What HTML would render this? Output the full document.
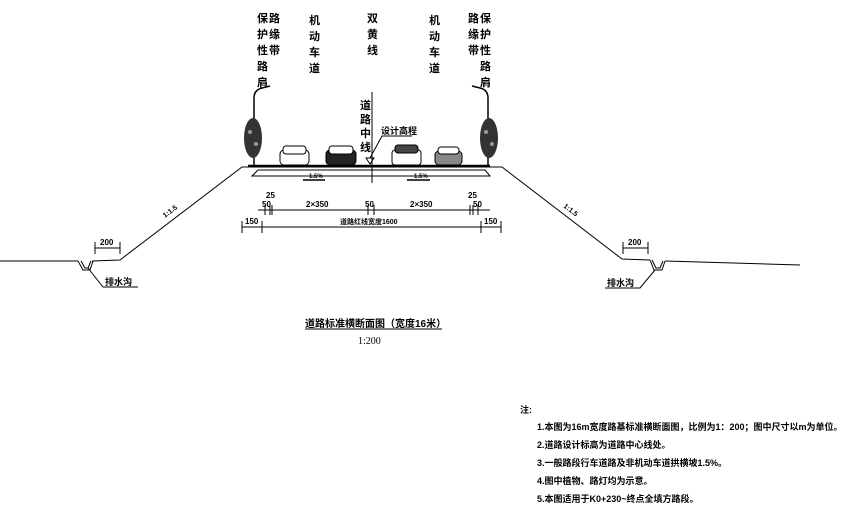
<!DOCTYPE html>
<html><head><meta charset="utf-8"><style>
body{margin:0;background:#fff}
svg{display:block}
text{font-family:"Liberation Sans","Noto Sans CJK SC",sans-serif;font-weight:bold;fill:#000}
.v{font-size:11px}
.d{font-size:8px}
</style></head><body>
<svg width="850" height="518" viewBox="0 0 850 518" xmlns="http://www.w3.org/2000/svg">
<g stroke="#000" fill="none" stroke-width="1">
<path d="M0 261 L78 261 M92 261 L120 260 L242 167 L502 167 L622 259 L650 260 M665 261 L800 265"/>
<path d="M78 261 L83 270 L90 270 L93 261 M81 261 L85 268 L88 268 L91 261"/>
<path d="M650 260 L654 270 L662 270 L665 261 M652 260 L656 268 L660 268 L663 261"/>
<path d="M88 268 L103 287 L138 287 M655 270 L640 288 L605 288"/>
<path d="M248 166 L490 166" stroke-width="2.5"/>
<path d="M258 170 L485 170 L490 176 L252 176 Z"/>
<path d="M372 92 L372 183"/>
<path d="M366 158 L374 158 L370 164 Z M370 158 L382 136 L412 136"/>
<path d="M303 180 L325 180 M407 180 L430 180" stroke-width="1.5"/>
<path d="M258 210 L490 210 M265 205 L265 215 M270 205 L270 215 M272 205 L272 215 M368 205 L368 215 M374 205 L374 215 M470 205 L470 215 M473 205 L473 215 M478 205 L478 215"/>
<path d="M242 227 L501 227 M242 221 L242 233 M262 221 L262 233 M481 221 L481 233 M501 221 L501 233"/>
<path d="M95 248 L120 248 M95 242 L95 254 M120 242 L120 254 M623 248 L648 248 M623 242 L623 254 M648 242 L648 254"/>
<path d="M305 329 L442 329"/>
<path d="M254 165 L254 98 Q254 90 262 88 L270 86 M488 165 L488 98 Q488 90 480 88 L472 86" stroke-width="1.5"/>
</g>
<g fill="#333">
<ellipse cx="253" cy="138" rx="9" ry="20"/><ellipse cx="489" cy="138" rx="9" ry="20"/>
</g>
<g fill="#fff" opacity=".5"><circle cx="250" cy="132" r="2"/><circle cx="256" cy="144" r="2"/><circle cx="486" cy="132" r="2"/><circle cx="492" cy="144" r="2"/></g>
<g stroke="#000" stroke-width="1">
<rect x="280" y="150" width="29" height="15" rx="4" fill="#fff"/>
<rect x="283" y="146" width="23" height="8" rx="3" fill="#fff"/>
<rect x="326" y="150" width="30" height="15" rx="4" fill="#222"/>
<rect x="329" y="146" width="24" height="8" rx="3" fill="#fff"/>
<rect x="392" y="150" width="29" height="15" rx="3" fill="#fff"/>
<rect x="395" y="145" width="23" height="8" rx="3" fill="#444"/>
<rect x="435" y="151" width="27" height="14" rx="4" fill="#888"/>
<rect x="438" y="147" width="21" height="7" rx="3" fill="#fff"/>
</g>
<g class="v">
<text x="257" y="22">保</text><text x="257" y="38">护</text><text x="257" y="54">性</text><text x="257" y="70">路</text><text x="257" y="86">肩</text>
<text x="269" y="22">路</text><text x="269" y="38">缘</text><text x="269" y="54">带</text>
<text x="309" y="24">机</text><text x="309" y="40">动</text><text x="309" y="56">车</text><text x="309" y="72">道</text>
<text x="367" y="22">双</text><text x="367" y="38">黄</text><text x="367" y="54">线</text>
<text x="429" y="24">机</text><text x="429" y="40">动</text><text x="429" y="56">车</text><text x="429" y="72">道</text>
<text x="468" y="22">路</text><text x="468" y="38">缘</text><text x="468" y="54">带</text>
<text x="480" y="22">保</text><text x="480" y="38">护</text><text x="480" y="54">性</text><text x="480" y="70">路</text><text x="480" y="86">肩</text>
<text x="360" y="109">道</text><text x="360" y="123">路</text><text x="360" y="137">中</text><text x="360" y="151">线</text>
</g>
<text x="381" y="134" class="d" style="font-size:9px">设计高程</text>
<g class="d" style="font-size:6px"><text x="309" y="178">1.5%</text><text x="414" y="178">1.5%</text></g>
<g class="d">
<text x="266" y="198">25</text><text x="262" y="207">50</text>
<text x="306" y="207">2×350</text><text x="365" y="207">50</text><text x="410" y="207">2×350</text>
<text x="468" y="198">25</text><text x="473" y="207">50</text>
<text x="245" y="224">150</text><text x="340" y="224" style="font-size:7px">道路红线宽度1600</text><text x="484" y="224">150</text>
<text x="100" y="245">200</text><text x="628" y="245">200</text>
<text x="105" y="285" style="font-size:9px">排水沟</text><text x="607" y="286" style="font-size:9px">排水沟</text>
<text transform="translate(165,218) rotate(-37)" style="font-size:7px">1:1.5</text>
<text transform="translate(563,207) rotate(37)" style="font-size:7px">1:1.5</text>
</g>
<text x="305" y="327" style="font-size:10px">道路标准横断面图（宽度16米）</text>
<text x="358" y="344" style="font-size:10px;font-weight:normal;font-family:'Liberation Serif',serif">1:200</text>
<g style="font-size:9px">
<text x="520" y="413">注:</text>
<text x="537" y="430">1.本图为16m宽度路基标准横断面图，比例为1：200；图中尺寸以m为单位。</text>
<text x="537" y="448">2.道路设计标高为道路中心线处。</text>
<text x="537" y="466">3.一般路段行车道路及非机动车道拱横坡1.5%。</text>
<text x="537" y="484">4.图中植物、路灯均为示意。</text>
<text x="537" y="502">5.本图适用于K0+230~终点全填方路段。</text>
</g>
</svg>
</body></html>
